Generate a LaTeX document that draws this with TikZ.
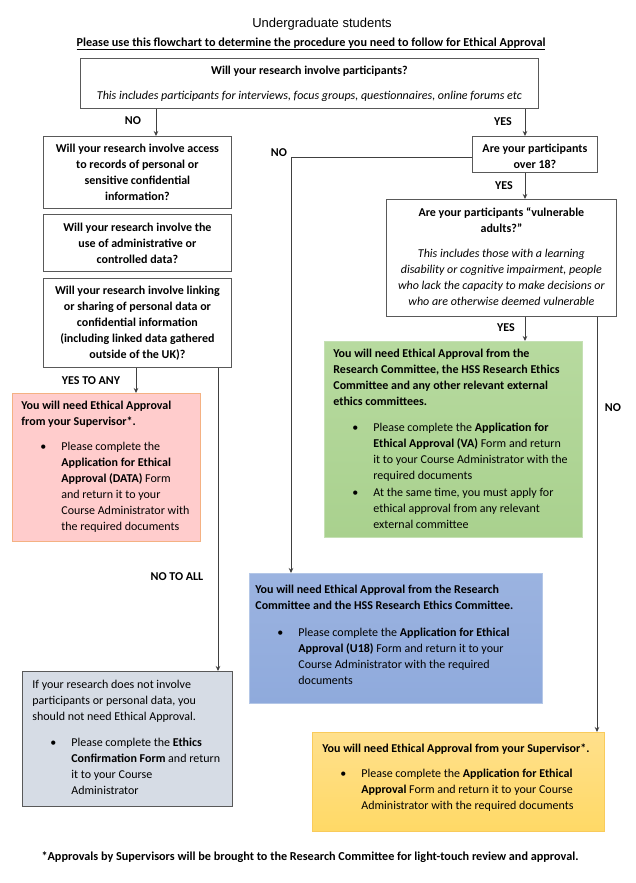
\documentclass[tikz,border=0pt]{standalone}
\usepackage{fontspec}
\setmainfont{Carlito}
\newfontfamily\headfont{Liberation Sans}
\usetikzlibrary{positioning, arrows.meta, calc}
\definecolor{redfill}{HTML}{FFCCCC}
\definecolor{redline}{HTML}{F4B183}
\definecolor{greenfill}{HTML}{A9D18E}
\definecolor{greentop}{HTML}{B7DA9F}
\definecolor{greenline}{HTML}{C5E0B4}
\definecolor{bluefill}{HTML}{8FAADC}
\definecolor{bluetop}{HTML}{9BB3E0}
\definecolor{blueline}{HTML}{B4C7E7}
\definecolor{yellowfill}{HTML}{FFD966}
\definecolor{yellowtop}{HTML}{FFE08C}
\definecolor{yellowline}{HTML}{F9CB5B}
\definecolor{greyfill}{HTML}{D6DCE5}
\definecolor{greyline}{HTML}{595959}
\tikzset{
    qbox/.style={rectangle, draw=greyline, line width=0.8pt, anchor=north west, inner ysep=0pt, inner xsep=6pt, font=\fontsize{12}{16}\selectfont},
    redbox/.style={qbox, draw=redline, fill=redfill, inner xsep=9pt},
    greenbox/.style={qbox, draw=greenline, top color=greentop, bottom color=greenfill, inner xsep=9pt},
    bluebox/.style={qbox, draw=blueline, top color=bluetop, bottom color=bluefill},
    greybox/.style={qbox, draw=greyline, fill=greyfill, inner xsep=10pt},
    yellowbox/.style={qbox, draw=yellowline, top color=yellowtop, bottom color=yellowfill, inner xsep=10pt},
    lbl/.style={font=\fontsize{12}{14}\selectfont\bfseries, inner sep=1pt},
    link/.style={draw=black!75, line width=0.8pt, -{Stealth[length=5pt,width=4.5pt]}},
}
% box text: width, height, first baseline, body
\newcommand{\boxbody}[4]{\parbox[t][#2pt][t]{#1pt}{\rule{0pt}{#3pt}#4}}
\newcommand{\bitem}[2][40pt]{\par{\leftskip=#1\noindent\llap{\textbullet\hspace{15pt}}#2\par}}

\begin{document}
\begin{tikzpicture}[x=1pt, y=-1pt]
\useasboundingbox (0,0) rectangle (636,883);

\node[font=\headfont\fontsize{13}{15}\selectfont] (title) at (322,24) {Undergraduate students};
\node[font=\fontsize{12.2}{14}\selectfont\bfseries] (subtitle) at (311,44) {\underline{Please use this flowchart to determine the procedure you need to follow for Ethical Approval}};

% questions
\node[qbox, inner xsep=4pt] (q1) at (80,58) {\boxbody{450}{50}{16}{\centering\textbf{Will your research involve participants?}\par\vspace{9pt}\textit{This includes participants for interviews, focus groups, questionnaires, online forums etc}}};
\node[qbox] (a) at (43,136) {\boxbody{176}{72}{16}{\centering\bfseries Will your research involve access\\ to records of personal or\\ sensitive confidential\\ information?}};
\node[qbox] (b) at (43,214) {\boxbody{176}{57}{17}{\centering\bfseries Will your research involve the\\ use of administrative or\\ controlled data?}};
\node[qbox] (c) at (43,278) {\boxbody{176}{89}{16}{\centering\bfseries Will your research involve linking\\ or sharing of personal data or\\ confidential information\\ (including linked data gathered\\ outside of the UK)?}};
\node[qbox, inner xsep=4pt] (q2) at (472,136) {\boxbody{117}{36}{16}{\centering\bfseries Are your participants\\ over 18?}};
\node[qbox] (q3) at (386,199) {\boxbody{218}{117}{17}{\centering\textbf{Are your participants “vulnerable\\ adults?”}\par\vspace{9pt}\textit{This includes those with a learning\\ disability or cognitive impairment, people\\ who lack the capacity to make decisions or\\ who are otherwise deemed vulnerable}}};

% outcomes
\node[redbox] (red) at (12,393) {\boxbody{170}{148}{16}{\raggedright\textbf{You will need Ethical Approval\\ from your Supervisor*.}\par\vspace{9pt}
    \bitem{Please complete the\\ \textbf{Application for Ethical\\ Approval (DATA)} Form\\ and return it to your\\ Course Administrator with\\ the required documents}}};
\node[greenbox] (green) at (324,341) {\boxbody{240}{196}{16}{\raggedright\textbf{You will need Ethical Approval from the\\ Research Committee, the HSS Research Ethics\\ Committee and any other relevant external\\ ethics committees.}\par\vspace{10pt}
    \bitem{Please complete the \textbf{Application for}\\ \textbf{Ethical Approval (VA)} Form and return\\ it to your Course Administrator with the\\ required documents}
    \vspace{1pt}
    \bitem{At the same time, you must apply for\\ ethical approval from any relevant\\ external committee}}};
\node[bluebox] (blue) at (249,573) {\boxbody{281}{130}{20}{\raggedright\textbf{You will need Ethical Approval from the Research\\ Committee and the HSS Research Ethics Committee.}\par\vspace{11pt}
    \bitem[43pt]{Please complete the \textbf{Application for Ethical}\\ \textbf{Approval (U18)} Form and return it to your\\ Course Administrator with the required\\ documents}}};
\node[greybox] (grey) at (22,671) {\boxbody{190}{135}{17}{\raggedright If your research does not involve\\ participants or personal data, you\\ should not need Ethical Approval.\par\vspace{10pt}
    \bitem[39pt]{Please complete the \textbf{Ethics}\\ \textbf{Confirmation Form} and return\\ it to your Course\\ Administrator}}};
\node[yellowbox] (yellow) at (312,732) {\boxbody{272}{99}{20}{\raggedright\textbf{You will need Ethical Approval from your Supervisor*.}\par\vspace{9pt}
    \bitem[39pt]{Please complete the \textbf{Application for Ethical}\\ \textbf{Approval} Form and return it to your Course\\ Administrator with the required documents}}};

\node[font=\fontsize{12.2}{14}\selectfont\bfseries] (footer) at (310,857) {*Approvals by Supervisors will be brought to the Research Committee for light-touch review and approval.};

% labels
\node[lbl] (l1) at (133,121) {NO};
\node[lbl] (l2) at (503,122) {YES};
\node[lbl] (l3) at (279,153) {NO};
\node[lbl] (l4) at (504,186) {YES};
\node[lbl] (l5) at (91,381) {YES TO ANY};
\node[lbl] (l6) at (506,328) {YES};
\node[lbl] (l7) at (177,577) {NO TO ALL};
\node[lbl] (l8) at (613,408) {NO};

% columns of the connectors
\coordinate (colA) at (156,0);
\coordinate (colQ) at (525,0);
\coordinate (colY) at (136,0);
\coordinate (colN) at (218,0);
\coordinate (colU) at (291,0);
\coordinate (colV) at (597,0);

\draw[link] (q1.south -| colA) -- (a.north -| colA);
\draw[link] (q1.south -| colQ) -- (q2.north -| colQ);
\draw[link] (q2.south -| colQ) -- (q3.north -| colQ);
\draw[link] (q3.south -| colQ) -- (green.north -| colQ);
\draw[link] ($(q2.west)+(0,3)$) -| (blue.north -| colU);
\draw[link] (c.south -| colY) -- (red.north -| colY);
\draw[link] (c.south -| colN) -- (grey.north -| colN);
\draw[link] (q3.south -| colV) -- (yellow.north -| colV);
\end{tikzpicture}
\end{document}
